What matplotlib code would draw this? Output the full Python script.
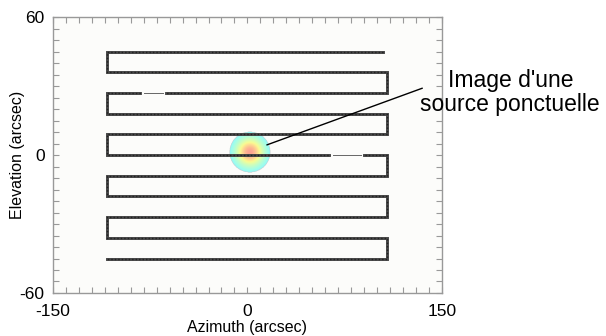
import matplotlib.pyplot as plt
import numpy as np
from matplotlib.ticker import MultipleLocator, FixedLocator

plt.rcParams['font.family'] = ['Liberation Sans', 'DejaVu Sans']
plt.rcParams['axes.unicode_minus'] = False

# raster scan rows (elevation, arcsec) and azimuth extent
rows_el = [45, 36, 27, 18, 9, 0, -9, -18, -27, -36, -45]
az_left = -108
az_right = 108
top_row_end = 105
# gaps in the scan (row elevation, az start, az end)
gaps = [(27, -80, -65), (0, 66, 88)]

# point source image
src_az, src_el = 1.5, 1.5
src_sig_az, src_sig_el = 7.8, 4.4
src_radius = 2.0  # in sigmas

# annotation
arrow_start = (13, 4)
arrow_end = (137, 29.5)
label = "Image d'une\nsource ponctuelle"

fig = plt.figure(figsize=(6.06, 3.36), dpi=100)
ax = fig.add_axes([0.0875, 0.128, 0.6415, 0.821])
ax.set_facecolor('#fcfcfa')

# gaussian blob
gx = np.linspace(-40, 40, 321)
gy = np.linspace(-25, 25, 201)
X, Y = np.meshgrid(gx, gy)
R2 = ((X - src_az) / src_sig_az) ** 2 + ((Y - src_el) / src_sig_el) ** 2
Z = np.exp(-R2 / 2)
Z = np.ma.masked_where(R2 > src_radius ** 2, Z)
ax.imshow(Z, extent=[gx[0], gx[-1], gy[0], gy[-1]], origin='lower',
          cmap='jet', vmin=-0.45, vmax=1.22, alpha=0.42, aspect='auto',
          interpolation='bilinear', zorder=1)

# build the scan path
path_x, path_y = [], []
for i, el in enumerate(rows_el):
    if i == 0:
        xs = [top_row_end, az_left]
    elif i % 2 == 1:
        xs = [az_left, az_right]
    else:
        xs = [az_right, az_left]
    path_x += xs
    path_y += [el, el]

ax.plot(path_x, path_y, color='#454545', lw=2.1, solid_joinstyle='miter', zorder=2)
ax.plot(path_x, path_y, color='#222222', lw=1.0, ls=(0, (1, 1.5)), zorder=3)

# gaps: cover thick line, draw thin line
for el, a, b in gaps:
    ax.plot([a, b], [el, el], color='#fcfcfa', lw=3, zorder=4)
    ax.plot([a, b], [el, el], color='#666666', lw=0.7, zorder=5)

ax.annotate('', xy=arrow_start, xytext=arrow_end,
            arrowprops=dict(arrowstyle='-', color='black', lw=1.0),
            zorder=6, annotation_clip=False)
fig.text(0.842, 0.725, label, ha='center', va='center', fontsize=16.5,
         linespacing=1.1)

ax.set_xlim(-150, 150)
ax.set_ylim(-60, 60)
ax.xaxis.set_major_locator(FixedLocator([-150, 0, 150]))
ax.yaxis.set_major_locator(FixedLocator([-60, 0, 60]))
ax.xaxis.set_minor_locator(MultipleLocator(10))
ax.yaxis.set_minor_locator(MultipleLocator(5))
ax.tick_params(which='both', direction='in', top=True, right=True,
               length=4, width=0.8, color='#999999', labelsize=12.5, pad=6)
ax.tick_params(axis='x', pad=8)
for s in ax.spines.values():
    s.set_color('#999999')
    s.set_linewidth(1.0)

ax.set_xlabel('Azimuth (arcsec)', fontsize=11.5, labelpad=1)
ax.set_ylabel('Elevation (arcsec)', fontsize=11.5)
ax.yaxis.set_label_coords(-0.072, 0.5)

fig.savefig('out.png', dpi=100)
